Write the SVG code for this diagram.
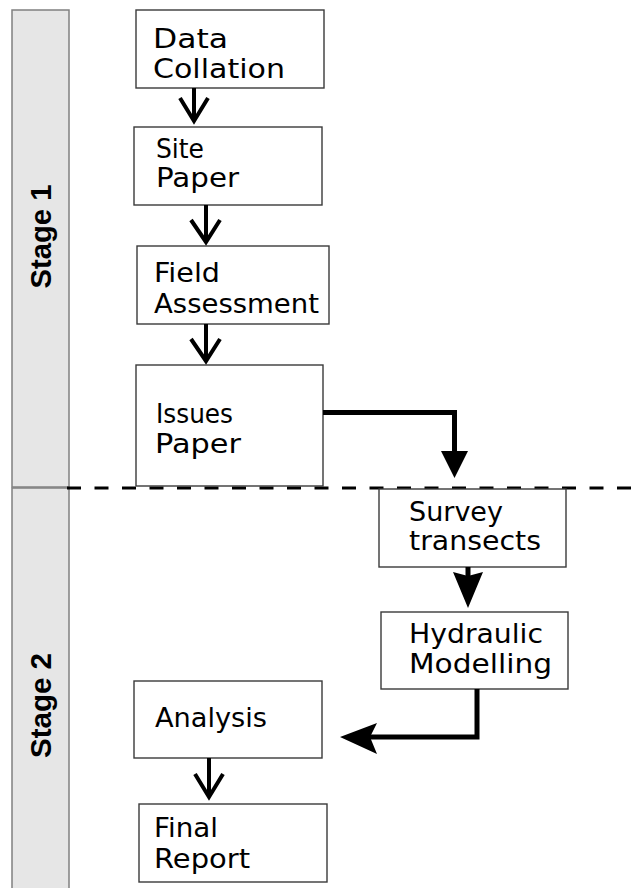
<svg xmlns="http://www.w3.org/2000/svg" width="643" height="888" viewBox="0 0 643 888">
<style>
.stage{fill:#e6e6e6;stroke:#808080;stroke-width:1.5}
.stxt{font-family:"Liberation Sans",Arial,sans-serif;font-weight:bold;font-size:29px;fill:#000;text-anchor:middle}
.box{fill:#fff;stroke:#3a3a3a;stroke-width:1.4}
.t{font-family:"DejaVu Sans",sans-serif;font-size:26px;fill:#000}
.thin{fill:none;stroke:#000;stroke-width:4}
.thick{fill:none;stroke:#000;stroke-width:5}
.head{fill:#000;stroke:none}
</style>
<rect width="643" height="888" fill="#fff"/>
<g id="stage1">
<rect class="stage" x="12" y="10" width="57" height="477"/>
<text class="stxt" transform="translate(51,236.5) rotate(-90)" textLength="104" lengthAdjust="spacingAndGlyphs">Stage 1</text>
</g>
<g id="stage2">
<rect class="stage" x="12" y="488" width="57" height="410"/>
<text class="stxt" transform="translate(51,705.5) rotate(-90)" textLength="105" lengthAdjust="spacingAndGlyphs">Stage 2</text>
</g>
<g id="divider">
<line x1="67" y1="488" x2="643" y2="488" stroke="#000" stroke-width="3" stroke-dasharray="14 13.5"/>
</g>
<g id="data-collation">
<rect class="box" x="136" y="10" width="188" height="78"/>
<text class="t" x="153" y="48" textLength="75" lengthAdjust="spacingAndGlyphs">Data</text>
<text class="t" x="153" y="78" textLength="132" lengthAdjust="spacingAndGlyphs">Collation</text>
</g>
<g id="site-paper">
<rect class="box" x="134" y="127" width="188" height="78"/>
<text class="t" x="156" y="158" textLength="48" lengthAdjust="spacingAndGlyphs">Site</text>
<text class="t" x="156" y="187" textLength="83" lengthAdjust="spacingAndGlyphs">Paper</text>
</g>
<g id="field-assessment">
<rect class="box" x="137" y="246" width="192" height="78"/>
<text class="t" x="154" y="282" textLength="66" lengthAdjust="spacingAndGlyphs">Field</text>
<text class="t" x="154" y="313" textLength="165" lengthAdjust="spacingAndGlyphs">Assessment</text>
</g>
<g id="issues-paper">
<rect class="box" x="136" y="365" width="187" height="121"/>
<text class="t" x="156" y="423" textLength="77" lengthAdjust="spacingAndGlyphs">Issues</text>
<text class="t" x="155" y="453" textLength="86" lengthAdjust="spacingAndGlyphs">Paper</text>
</g>
<g id="survey-transects">
<rect class="box" x="379" y="489" width="187" height="78"/>
<text class="t" x="409" y="521" textLength="94" lengthAdjust="spacingAndGlyphs">Survey</text>
<text class="t" x="409" y="550" textLength="132" lengthAdjust="spacingAndGlyphs">transects</text>
</g>
<g id="hydraulic-modelling">
<rect class="box" x="381" y="612" width="187" height="77"/>
<text class="t" x="409" y="643" textLength="134" lengthAdjust="spacingAndGlyphs">Hydraulic</text>
<text class="t" x="409" y="673" textLength="143" lengthAdjust="spacingAndGlyphs">Modelling</text>
</g>
<g id="analysis">
<rect class="box" x="134" y="681" width="188" height="77"/>
<text class="t" x="155" y="727" textLength="112" lengthAdjust="spacingAndGlyphs">Analysis</text>
</g>
<g id="final-report">
<rect class="box" x="139" y="804" width="188" height="78"/>
<text class="t" x="154" y="837" textLength="64" lengthAdjust="spacingAndGlyphs">Final</text>
<text class="t" x="154" y="868" textLength="96" lengthAdjust="spacingAndGlyphs">Report</text>
</g>
<g id="connectors">
<path class="thin" d="M194,88 V121 M180,98 L194,121 L208,98"/>
<path class="thin" d="M206,205 V242 M191,220 L206,242 L220,220"/>
<path class="thin" d="M206,324 V361 M191,339 L206,361 L220,339"/>
<path class="thin" d="M209,758 V797 M195,774 L209,797 L223,774"/>
<path class="thick" d="M323,412.5 H454.5 V455"/>
<polygon class="head" points="441,451 468,451 454.5,478"/>
<path class="thick" d="M468,567 V578"/>
<polygon class="head" points="453,572 468,576 483,572 468,608"/>
<path class="thick" d="M477,689 V737 H370"/>
<polygon class="head" points="377,723 370,737 377,754 340,737"/>
</g>
</svg>
